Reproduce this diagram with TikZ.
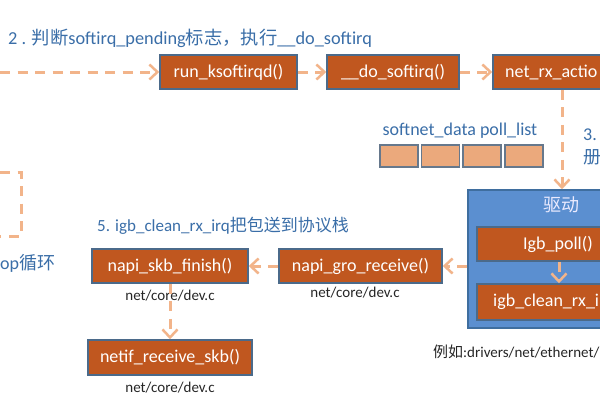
\documentclass[tikz,border=0pt]{standalone}
\usepackage{fontspec}
\setmainfont{Carlito}
\newfontfamily\cjk{Noto Sans CJK SC}
\newcommand{\zh}[1]{{\cjk #1}}
\usetikzlibrary{arrows.meta}
\definecolor{boxfill}{HTML}{C0571F}
\definecolor{boxedge}{HTML}{4B6A8A}
\definecolor{dashc}{HTML}{F2B48A}
\definecolor{titleblue}{HTML}{3A6EA8}
\definecolor{drvfill}{HTML}{5B8FD0}
\definecolor{drvedge}{HTML}{3F6E9F}
\definecolor{cellfill}{HTML}{EBA97C}
\definecolor{celledge}{HTML}{66788C}
\tikzset{
  fbox/.style={draw=boxedge, fill=boxfill, line width=1.5pt, text=white,
    font=\fontsize{18}{20}\selectfont, inner sep=0pt, minimum height=34pt},
  boxtext/.style={text=white, font=\fontsize{18}{20}\selectfont, inner sep=0pt},
  flow/.style={draw=dashc, line width=3pt, dash pattern=on 10pt off 7.5pt,
    -{Straight Barb[length=8pt,width=15pt,line width=2.5pt]}},
  loopline/.style={draw=dashc, line width=3pt, dash pattern=on 10pt off 7.5pt},
  bluelabel/.style={text=titleblue, inner sep=0pt},
  note/.style={text=black!85, font=\fontsize{15}{17}\selectfont, inner sep=0pt},
  cell/.style={draw=celledge, fill=cellfill, line width=1.8pt, minimum width=38pt,
    minimum height=22pt, inner sep=0pt},
  drvbox/.style={draw=drvedge, fill=drvfill, line width=1.5pt, inner sep=0pt}
}
\begin{document}
\begin{tikzpicture}[x=1pt,y=-1pt]
\useasboundingbox (0,0) rectangle (600,400);
\clip (0,0) rectangle (600,400);
\fill[white] (0,0) rectangle (600,400);

% title texts
\node[bluelabel, anchor=west, font=\fontsize{18.3}{20}\selectfont] (title) at (8,38)
  {2 . \zh{判断}softirq\_pending\zh{标志，执行}\_\_do\_softirq};
\node[bluelabel, anchor=west, font=\fontsize{17}{19}\selectfont] (step5) at (97,226)
  {5. igb\_clean\_rx\_irq\zh{把包送到协议栈}};
\node[bluelabel, anchor=west, font=\fontsize{18}{20}\selectfont] (loop) at (0,263)
  {op\zh{循环}};
\node[bluelabel, font=\fontsize{18}{20}\selectfont] (pl) at (460,131)
  {softnet\_data poll\_list};
\node[bluelabel, anchor=west, font=\fontsize{18}{20}\selectfont] (s3a) at (583,135) {3.};
\node[bluelabel, anchor=west, font=\fontsize{18}{20}\selectfont] (s3b) at (583,157) {\zh{册}};

% top row
\node[fbox, minimum width=137pt] (run) at (228.5,72) {run\_ksoftirqd()};
\node[fbox, minimum width=132pt] (dosoft) at (393,72) {\_\_do\_softirq()};
\node[fbox, minimum width=138pt] (netrx) at (562,72) {};
\node[boxtext, anchor=west] (netrxt) at (505,72) {net\_rx\_actio};

% poll list cells
\node[cell] (c1) at (399,156) {};
\node[cell] (c2) at (440.5,156) {};
\node[cell] (c3) at (482,156) {};
\node[cell] (c4) at (524,156) {};

% driver
\node[drvbox, minimum width=182pt, minimum height=138pt] (drv) at (559,259) {};
\node[text=white!92!blue, font=\fontsize{18}{20}\selectfont, inner sep=0pt] (drvt) at (561,205) {\zh{驱动}};
\node[fbox, minimum width=164pt] (igbpoll) at (559,244) {};
\node[boxtext, anchor=west] (igbpollt) at (523,244) {Igb\_poll()};
\node[fbox, minimum width=164pt, minimum height=36pt] (igbclean) at (559,302) {};
\node[boxtext, anchor=west] (igbcleant) at (493,302) {igb\_clean\_rx\_i};
\node[note, anchor=west] (eg) at (433,352) {\zh{例如}:drivers/net/ethernet/};

% stack
\node[fbox, minimum width=163pt] (napigro) at (360.5,266) {napi\_gro\_receive()};
\node[fbox, minimum width=156pt] (napiskb) at (170,266) {napi\_skb\_finish()};
\node[fbox, minimum width=164pt, minimum height=35pt] (netif) at (170,357.5) {netif\_receive\_skb()};
\node[note] (f1) at (355,293) {net/core/dev.c};
\node[note] (f2) at (170,296) {net/core/dev.c};
\node[note] (f3) at (170,388) {net/core/dev.c};

% connectors
\coordinate (lin) at (0,72);
\draw[flow] (lin) -- (run.west);
\draw[flow] (run) -- (dosoft);
\draw[flow] (dosoft) -- (netrx);
\draw[flow] (netrx.south) -- (netrx.south |- drv.north);
\draw[flow] (igbpoll.south) -- (igbclean.north);
\draw[flow] (drv.west |- napigro.east) -- (napigro.east);
\draw[flow] (napigro) -- (napiskb);
\draw[flow] (napiskb) -- (netif);

% loop bracket
\coordinate (la) at (0,172);
\coordinate (lb) at (21,172);
\coordinate (lc) at (21,236);
\coordinate (ld) at (0,236);
\draw[loopline] (la) -- (lb) -- (lc) -- (ld);
\end{tikzpicture}
\end{document}
